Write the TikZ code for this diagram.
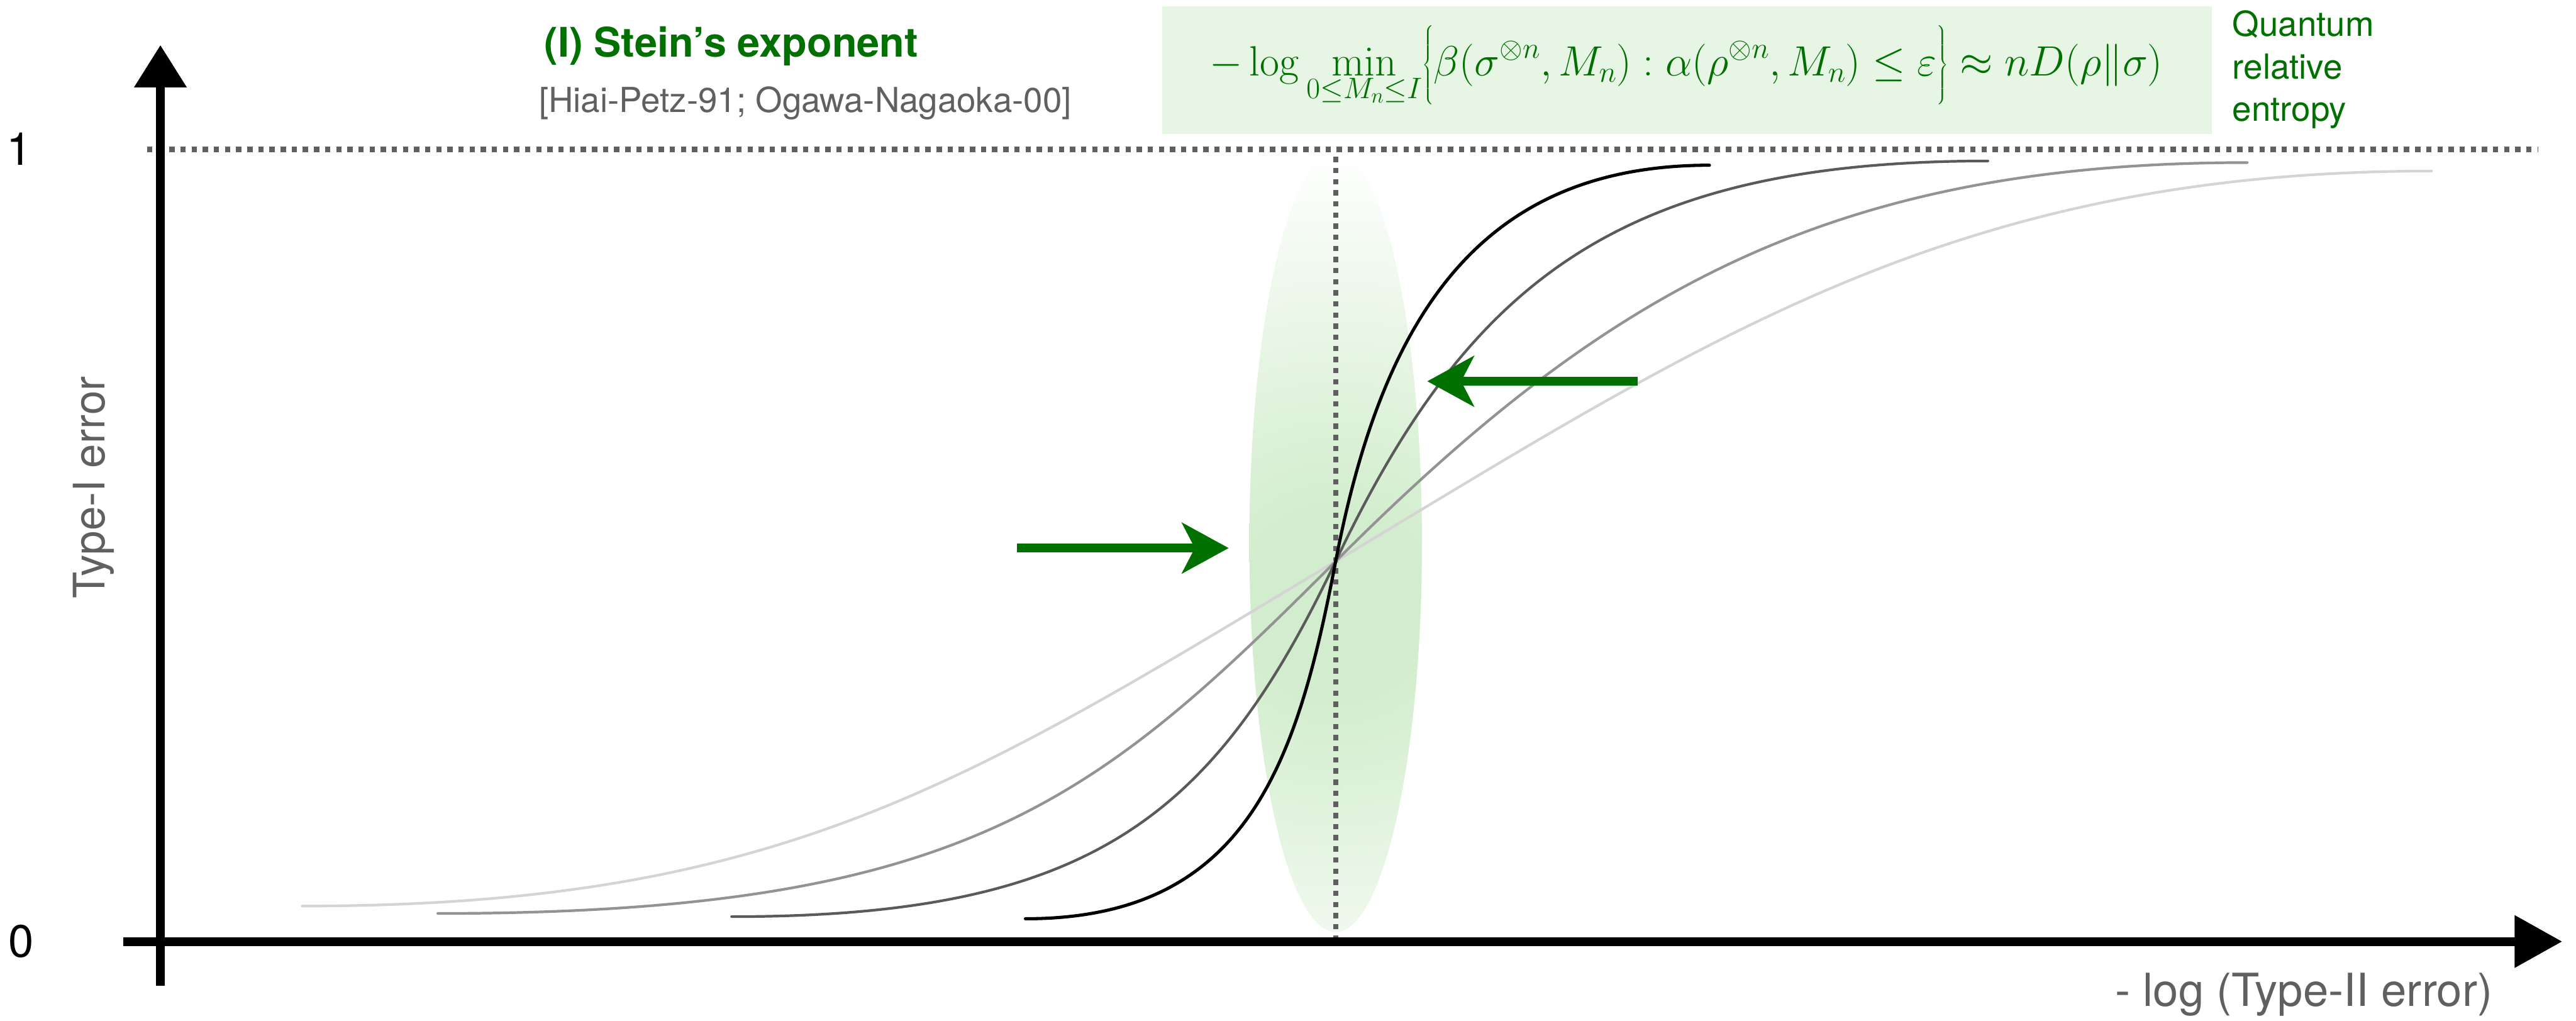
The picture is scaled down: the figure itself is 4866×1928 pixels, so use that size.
\RequirePackage{fix-cm}
\documentclass[tikz,border=0pt]{standalone}
\usepackage{amsmath}
\usepackage[no-math]{fontspec}
\setmainfont{TeX Gyre Heros}
\usetikzlibrary{arrows.meta}
\definecolor{tgreen}{HTML}{007000}
\definecolor{tgray}{HTML}{606060}
\definecolor{boxg}{HTML}{E6F5E4}
\definecolor{glowc}{HTML}{D2EDCD}
\definecolor{dotc}{HTML}{5F5F5F}
\definecolor{cA}{HTML}{5A5A5A}
\definecolor{cB}{HTML}{939393}
\definecolor{cC}{HTML}{D4D4D4}
\pgfdeclareradialshading{glow}{\pgfpoint{0bp}{0bp}}{color(0bp)=(glowc); color(5bp)=(glowc); color(25bp)=(white); color(50bp)=(white)}
\tikzset{
  axisline/.style={line width=17pt, black},
  refline/.style={line width=10pt, draw=dotc, dash pattern=on 10pt off 11pt},
  curveline/.style={line width=5pt, line cap=round},
  garrow/.style={line width=17pt, draw=tgreen, -{Stealth[length=88pt, width=95pt, inset=24pt]}},
  lab/.style={inner sep=0pt},
}
\begin{document}
\begin{tikzpicture}[x=1pt,y=-1pt]
\useasboundingbox (0,0) rectangle (4866,1928);
\fill[white] (0,0) rectangle (4866,1928);

% formula box
\node[fill=boxg, inner sep=0pt, minimum width=1983pt, minimum height=241pt] (fbox) at (3186.5,132.5) {};

% green glow ellipse
\begin{scope}
  \clip (2523,1025) ellipse [x radius=163, y radius=735];
  \shade[shading=glow] (2523,1140) circle [radius=860];
\end{scope}

% reference lines
\coordinate (hl) at (278,282);
\coordinate (hr) at (4795,282);
\coordinate (vt) at (2523,296);
\coordinate (vb) at (2523,1778);
\draw[refline] (hl) -- (hr);
\draw[refline] (vt) -- (vb);

% curves (all meet at C)
\coordinate (C) at (2523,1060);
\draw[curveline, cC] (571,1711) .. controls (1471,1711) and (1823,1480) .. (C)
                     .. controls (3223,640) and (3693,323) .. (4593,323);
\draw[curveline, cB] (827,1725) .. controls (1827,1725) and (2073,1510) .. (C)
                     .. controls (3023,560) and (3445,307) .. (4245,307);
\draw[curveline, cA] (1382,1731) .. controls (2062,1731) and (2293,1543) .. (C)
                     .. controls (2773,535) and (3055,304) .. (3755,304);
\draw[curveline, black, line width=6pt] (1937,1735) .. controls (2357,1735) and (2450,1440) .. (C)
                     .. controls (2613,592) and (2800,312) .. (3229,312);

% axes
\coordinate (yb) at (303,1862);
\coordinate (yt) at (303,85);
\coordinate (xl) at (233,1778);
\coordinate (xr) at (4840,1778);
\draw[axisline, -{Triangle[length=80pt, width=95pt]}] (yb) -- (yt);
\draw[axisline, -{Triangle[length=90pt, width=95pt]}] (xl) -- (xr);

% green arrows
\coordinate (ra1) at (1921,1035);
\coordinate (ra2) at (2321,1035);
\coordinate (la1) at (3094,720);
\coordinate (la2) at (2696,720);
\draw[garrow] (ra1) -- (ra2);
\draw[garrow] (la1) -- (la2);

% texts
\node[lab, anchor=base west, text=tgreen, font={\fontsize{77}{92}\selectfont\bfseries}] (title) at (1028,108) {(I) Stein’s exponent};
\node[lab, anchor=base west, text=tgray, font={\fontsize{65}{78}\selectfont}] (cite) at (1018,212) {[Hiai-Petz-91; Ogawa-Nagaoka-00]};
\node[lab, anchor=base, text=tgreen, font={\fontsize{80}{96}\selectfont}] (fml) at (3185,143)
  {$\displaystyle -\log \min_{0\le M_n\le I}\Bigl\{\beta(\sigma^{\otimes n},M_n) : \alpha(\rho^{\otimes n},M_n)\le\varepsilon\Bigr\}\approx nD(\rho\|\sigma)$};
\node[lab, anchor=north west, align=left, text=tgreen, font={\fontsize{65}{80}\selectfont}] (qre) at (4217,20) {Quantum\\relative\\entropy};
\node[lab, text=black, font={\fontsize{86}{100}\selectfont}] (one) at (36,281) {1};
\node[lab, text=black, font={\fontsize{86}{100}\selectfont}] (zero) at (40,1778) {0};
\node[lab, rotate=90, text=tgray, font={\fontsize{82}{96}\selectfont}] (ylab) at (177,921) {Type-I error};
\node[lab, text=tgray, font={\fontsize{86}{100}\selectfont}] (xlab) at (4352,1878) {- log (Type-II error)};
\end{tikzpicture}
\end{document}
